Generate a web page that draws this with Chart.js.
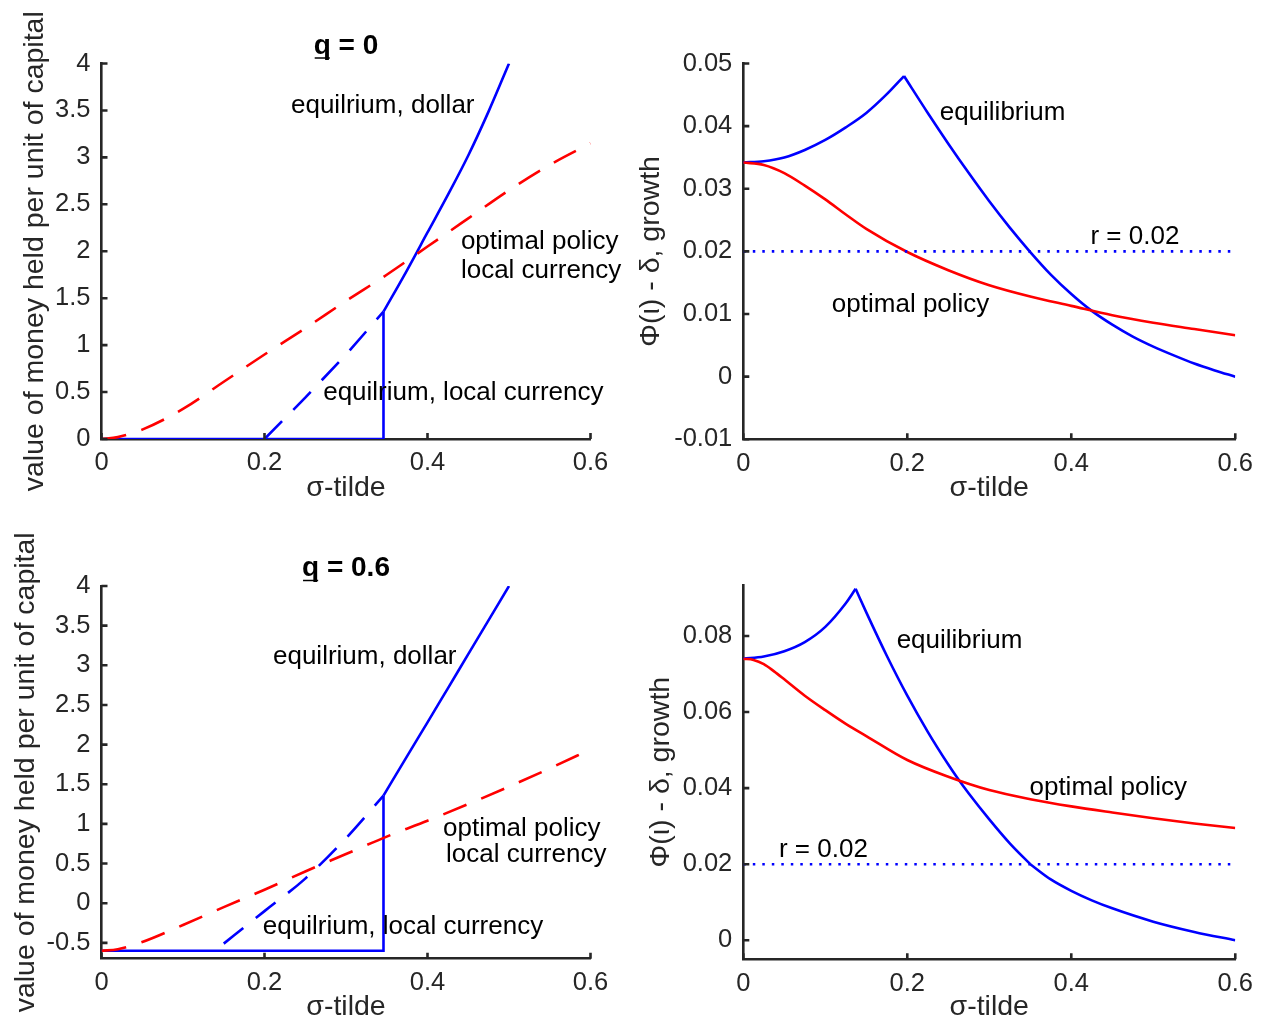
<!DOCTYPE html>
<html><head><meta charset="utf-8">
<script src="https://cdn.jsdelivr.net/npm/chart.js@4.4.1/dist/chart.umd.min.js"></script>
<style>
html,body{margin:0;padding:0;background:#fff;width:1262px;height:1021px;overflow:hidden;}
canvas{position:absolute;}
</style></head><body>
<canvas id="c1" width="631" height="510" style="left:0px;top:0px"></canvas>
<canvas id="c2" width="631" height="510" style="left:631px;top:0px"></canvas>
<canvas id="c3" width="631" height="511" style="left:0px;top:510px"></canvas>
<canvas id="c4" width="631" height="511" style="left:631px;top:510px"></canvas>
<script>
// ---------- tick values / labels ----------
const xTickVals = [0, 0.2, 0.4, 0.6];
const xTickLabels = ['0', '0.2', '0.4', '0.6'];
const valueTicksQ0 = [0, 0.5, 1, 1.5, 2, 2.5, 3, 3.5, 4];
const valueLabelsQ0 = ['0', '0.5', '1', '1.5', '2', '2.5', '3', '3.5', '4'];
const valueTicksQ6 = [-0.5, 0, 0.5, 1, 1.5, 2, 2.5, 3, 3.5, 4];
const valueLabelsQ6 = ['-0.5', '0', '0.5', '1', '1.5', '2', '2.5', '3', '3.5', '4'];
const growthTicksQ0 = [-0.01, 0, 0.01, 0.02, 0.03, 0.04, 0.05];
const growthLabelsQ0 = ['-0.01', '0', '0.01', '0.02', '0.03', '0.04', '0.05'];
const growthTicksQ6 = [0, 0.02, 0.04, 0.06, 0.08];
const growthLabelsQ6 = ['0', '0.02', '0.04', '0.06', '0.08'];

// ---------- q = 0 : value of money ----------
const q0OptX = [0, 0.02, 0.05, 0.1, 0.15, 0.2, 0.25, 0.3, 0.35, 0.4, 0.45, 0.5, 0.55, 0.6];
const q0OptY = [0, 0.02, 0.1, 0.32, 0.61, 0.9, 1.18, 1.47, 1.75, 2.05, 2.35, 2.65, 2.92, 3.15];
const q0DollarStepX = [0, 0.346, 0.346];
const q0DollarStepY = [0, 0, 1.356];
const q0DollarCurveX = [0.346, 0.375, 0.4, 0.425, 0.45, 0.475, 0.5];
const q0DollarCurveY = [1.356, 1.8, 2.2, 2.6, 3.02, 3.49, 4.0];
const q0LocalX = [0.2, 0.25, 0.3, 0.346];
const q0LocalY = [0, 0.44, 0.9, 1.356];

// ---------- q = 0 : growth ----------
const q0GrowthEqRiseX = [0, 0.025, 0.05, 0.075, 0.1, 0.125, 0.15, 0.175, 0.196];
const q0GrowthEqRiseY = [0.0342, 0.0344, 0.035, 0.0362, 0.0378, 0.0398, 0.0421, 0.0451, 0.048];
const q0GrowthEqFallX = [0.196, 0.225, 0.25, 0.275, 0.3, 0.325, 0.35, 0.375, 0.4, 0.425, 0.45, 0.475, 0.5, 0.525, 0.55, 0.575, 0.6];
const q0GrowthEqFallY = [0.048, 0.0421, 0.0372, 0.0325, 0.028, 0.0238, 0.0199, 0.0163, 0.0132, 0.0105, 0.0083, 0.0064, 0.0048, 0.0034, 0.0021, 0.001, 0.0];
const q0GrowthOptX = [0, 0.025, 0.05, 0.075, 0.1, 0.125, 0.15, 0.2, 0.25, 0.3, 0.35, 0.4, 0.45, 0.5, 0.55, 0.6];
const q0GrowthOptY = [0.0342, 0.0338, 0.0325, 0.0305, 0.0283, 0.0259, 0.0236, 0.0199, 0.017, 0.0146, 0.0128, 0.0113, 0.0098, 0.0086, 0.0076, 0.0066];

// ---------- q = 0.6 : value of money ----------
const q6OptX = [0, 0.02, 0.05, 0.1, 0.15, 0.2, 0.25, 0.3, 0.35, 0.4, 0.45, 0.5, 0.55, 0.6];
const q6OptY = [-0.6, -0.58, -0.49, -0.275, -0.05, 0.17, 0.4, 0.62, 0.84, 1.04, 1.25, 1.47, 1.7, 1.94];
const q6DollarStepX = [0, 0.346, 0.346];
const q6DollarStepY = [-0.6, -0.6, 1.356];
const q6DollarCurveX = [0.346, 0.375, 0.4, 0.425, 0.45, 0.475, 0.5];
const q6DollarCurveY = [1.356, 1.855, 2.28, 2.71, 3.14, 3.57, 4.0];
const q6LocalX = [0.15, 0.2, 0.25, 0.3, 0.346];
const q6LocalY = [-0.51, -0.1, 0.31, 0.82, 1.356];

// ---------- q = 0.6 : growth ----------
const q6GrowthEqRiseX = [0, 0.025, 0.05, 0.075, 0.1, 0.125, 0.137];
const q6GrowthEqRiseY = [0.074, 0.0746, 0.076, 0.0784, 0.0824, 0.0886, 0.0924];
const q6GrowthEqFallX = [0.137, 0.15, 0.175, 0.2, 0.225, 0.25, 0.262, 0.275, 0.3, 0.325, 0.35];
const q6GrowthEqFallY = [0.0924, 0.0862, 0.0748, 0.0643, 0.0548, 0.0462, 0.0424, 0.0386, 0.0318, 0.0255, 0.02];
const q6GrowthEqTailX = [0.35, 0.375, 0.4, 0.425, 0.45, 0.5, 0.55, 0.6];
const q6GrowthEqTailY = [0.02, 0.016, 0.013, 0.0105, 0.0084, 0.0049, 0.0022, 0.0];
const q6GrowthOptX = [0, 0.0125, 0.025, 0.0375, 0.05, 0.075, 0.1, 0.125, 0.15, 0.2, 0.25, 0.3, 0.35, 0.4, 0.45, 0.5, 0.55, 0.6];
const q6GrowthOptY = [0.074, 0.0737, 0.0726, 0.0707, 0.0686, 0.0643, 0.0605, 0.0569, 0.0537, 0.0474, 0.043, 0.0395, 0.0371, 0.0352, 0.0336, 0.0321, 0.0307, 0.0295];

// ---------- interest rate line ----------
const rLineX = [0, 0.6];
const rLineY = [0.02, 0.02];

// ---------- layout / styles ----------
const FONT = '"Liberation Sans", Arial, Helvetica, sans-serif';
const AX = '#262626';
const BLUE = '#0000ff';
const RED = '#ff0000';
const LW = 2.6;
const TICK_SIZE = 25.5;
const LABEL_SIZE = 28.5;
const NOTE_SIZE = 26;

function pts(xs, ys) { return xs.map((x, i) => ({ x: x, y: ys[i] })); }
function ds(xs, ys, color, dash, smooth) {
  const d = { data: pts(xs, ys), borderColor: color, borderWidth: LW, borderDash: dash || [],
              borderCapStyle: 'butt', pointRadius: 0, fill: false, tension: 0, borderJoinStyle: 'miter' };
  if (smooth) d.cubicInterpolationMode = 'monotone';
  return d;
}
const DASH = [25, 16];
const DOT = [2.5, 7];

function panel(id, box, area, cfg) {
  const padTop = area.top - box.top;
  const padRight = box.left + box.w - area.right;
  const yWidth = area.left - box.left;
  const xHeight = box.top + box.h - area.bottom;
  const decor = {
    id: 'decor' + id,
    afterDatasetsDraw(chart) {
      const ctx = chart.ctx, ca = chart.chartArea, xs = chart.scales.x, ys = chart.scales.y;
      ctx.save();
      ctx.strokeStyle = AX; ctx.lineWidth = LW; ctx.lineCap = 'butt';
      ctx.beginPath();
      cfg.yTicks.forEach(v => { const p = ys.getPixelForValue(v); ctx.moveTo(ca.left, p); ctx.lineTo(ca.left + 6, p); });
      xTickVals.forEach(v => { const p = xs.getPixelForValue(v); ctx.moveTo(p, ca.bottom); ctx.lineTo(p, ca.bottom - 6); });
      ctx.stroke();
      ctx.fillStyle = '#000';
      ctx.font = NOTE_SIZE + 'px ' + FONT;
      ctx.textAlign = 'left'; ctx.textBaseline = 'middle';
      cfg.notes.forEach(n => ctx.fillText(n.t, xs.getPixelForValue(n.x), ys.getPixelForValue(n.y)));
      if (cfg.title) {
        ctx.font = 'bold 28px ' + FONT;
        ctx.textBaseline = 'alphabetic'; ctx.textAlign = 'left';
        const w = ctx.measureText(cfg.title).width;
        const qw = ctx.measureText('q').width;
        const cx = (ca.left + ca.right) / 2;
        const by = ca.top - 10;
        const x0 = cx - w / 2;
        ctx.fillText(cfg.title, x0, by);
        ctx.strokeStyle = '#000'; ctx.lineWidth = 1.5;
        ctx.beginPath(); ctx.moveTo(x0 + 1, by + 4.5); ctx.lineTo(x0 + qw - 1, by + 4.5); ctx.stroke();
      }
      ctx.restore();
    }
  };
  return new Chart(document.getElementById(id), {
    type: 'line',
    data: { datasets: cfg.datasets },
    options: {
      responsive: false, animation: false, devicePixelRatio: 1,
      layout: { padding: { top: padTop, right: padRight, left: 0, bottom: 0 } },
      plugins: { legend: { display: false }, tooltip: { enabled: false } },
      scales: {
        x: {
          type: 'linear', min: 0, max: 0.6,
          afterBuildTicks: s => { s.ticks = xTickVals.map(v => ({ value: v })); },
          afterFit: s => { s.height = xHeight; },
          ticks: { callback: v => xTickLabels[xTickVals.indexOf(v)], font: { family: FONT, size: TICK_SIZE }, color: AX, padding: 9, maxRotation: 0, autoSkip: false },
          grid: { display: false, drawTicks: false },
          border: { display: true, color: AX, width: LW },
          title: { display: true, text: 'σ-tilde', color: AX, font: { family: FONT, size: LABEL_SIZE, lineHeight: 1 }, padding: { top: 0, bottom: cfg.xPad } }
        },
        y: {
          type: 'linear', min: cfg.yMin, max: cfg.yMax,
          afterBuildTicks: s => { s.ticks = cfg.yTicks.map(v => ({ value: v })); },
          afterFit: s => { s.width = yWidth; },
          ticks: { callback: v => cfg.yLabels[cfg.yTicks.indexOf(v)], font: { family: FONT, size: TICK_SIZE }, color: AX, padding: 11, autoSkip: false },
          grid: { display: false, drawTicks: false },
          border: { display: true, color: AX, width: LW },
          title: { display: true, text: cfg.yTitle, color: AX, font: { family: FONT, size: LABEL_SIZE, lineHeight: 1 }, padding: { top: cfg.yPad, bottom: 0 } }
        }
      }
    },
    plugins: [decor]
  });
}

const valueTitle = 'value of money held per unit of capital';
const growthTitle = 'Φ(ι) - δ, growth';

panel('c1', { left: 0, top: 0, w: 631, h: 510 }, { left: 101.5, right: 590.5, top: 63.5, bottom: 439 }, {
  yMin: 0, yMax: 4, yTicks: valueTicksQ0, yLabels: valueLabelsQ0, yTitle: valueTitle, yPad: 20.5, xPad: 7.5, title: 'q = 0',
  datasets: [ds(q0OptX, q0OptY, RED, DASH, true), ds(q0LocalX, q0LocalY, BLUE, DASH), ds(q0DollarStepX, q0DollarStepY, BLUE), ds(q0DollarCurveX, q0DollarCurveY, BLUE, null, true)],
  notes: [
    { t: 'equilrium, dollar', x: 0.2325, y: 3.55 },
    { t: 'optimal policy', x: 0.441, y: 2.10 },
    { t: 'local currency', x: 0.441, y: 1.79 },
    { t: 'equilrium, local currency', x: 0.272, y: 0.49 }
  ]
});

panel('c2', { left: 631, top: 0, w: 631, h: 510 }, { left: 743.3, right: 1236, top: 63.5, bottom: 439.3 }, {
  yMin: -0.01, yMax: 0.05, yTicks: growthTicksQ0, yLabels: growthLabelsQ0, yTitle: growthTitle, yPad: 6, xPad: 7.5, title: null,
  datasets: [ds(rLineX, rLineY, BLUE, DOT), ds(q0GrowthOptX, q0GrowthOptY, RED, null, true), ds(q0GrowthEqRiseX, q0GrowthEqRiseY, BLUE, null, true), ds(q0GrowthEqFallX, q0GrowthEqFallY, BLUE, null, true)],
  notes: [
    { t: 'equilibrium', x: 0.2395, y: 0.0421 },
    { t: 'r = 0.02', x: 0.4234, y: 0.0223 },
    { t: 'optimal policy', x: 0.108, y: 0.0114 }
  ]
});

panel('c3', { left: 0, top: 510, w: 631, h: 511 }, { left: 101.5, right: 590.5, top: 586, bottom: 958.7 }, {
  yMin: -0.7, yMax: 4, yTicks: valueTicksQ6, yLabels: valueLabelsQ6, yTitle: valueTitle, yPad: 12, xPad: -0.5, title: 'q = 0.6',
  datasets: [ds(q6OptX, q6OptY, RED, DASH, true), ds(q6LocalX, q6LocalY, BLUE, DASH, true), ds(q6DollarStepX, q6DollarStepY, BLUE), ds(q6DollarCurveX, q6DollarCurveY, BLUE, null, true)],
  notes: [
    { t: 'equilrium, dollar', x: 0.2104, y: 3.106 },
    { t: 'optimal policy', x: 0.419, y: 0.937 },
    { t: 'local currency', x: 0.4227, y: 0.609 },
    { t: 'equilrium, local currency', x: 0.198, y: -0.299 }
  ]
});

panel('c4', { left: 631, top: 510, w: 631, h: 511 }, { left: 743.3, right: 1236, top: 585, bottom: 959.3 }, {
  yMin: -0.005, yMax: 0.0934, yTicks: growthTicksQ6, yLabels: growthLabelsQ6, yTitle: growthTitle, yPad: 16, xPad: -0.5, title: null,
  datasets: [ds(rLineX, rLineY, BLUE, DOT), ds(q6GrowthOptX, q6GrowthOptY, RED, null, true), ds(q6GrowthEqRiseX, q6GrowthEqRiseY, BLUE, null, true), ds(q6GrowthEqFallX, q6GrowthEqFallY, BLUE, null, true), ds(q6GrowthEqTailX, q6GrowthEqTailY, BLUE, null, true)],
  notes: [
    { t: 'equilibrium', x: 0.187, y: 0.0787 },
    { t: 'optimal policy', x: 0.349, y: 0.04 },
    { t: 'r = 0.02', x: 0.0435, y: 0.0237 }
  ]
});
</script>
</body></html>
